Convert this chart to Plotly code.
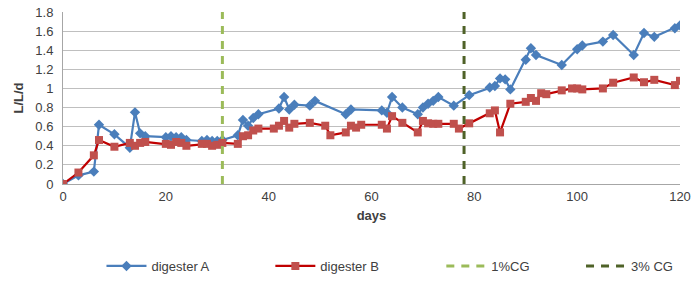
import plotly.graph_objects as go

days_a = [0, 3, 6, 7, 10, 13, 14, 15, 16, 20, 21, 22, 23, 24, 27, 28, 29, 30, 31, 34, 35, 36, 37, 38,
          42, 43, 44, 45, 48, 49, 55, 56, 62, 63, 64, 66, 69, 70, 71, 72, 73, 76, 79, 83, 84, 85, 86, 87,
          90, 91, 92, 97, 100, 101, 105, 107, 111, 113, 115, 119, 120]
vals_a = [0, 0.09, 0.13, 0.62, 0.52, 0.38, 0.75, 0.53, 0.50, 0.49, 0.50, 0.49, 0.49, 0.46, 0.45, 0.46, 0.45, 0.45, 0.46, 0.51, 0.67, 0.61, 0.69, 0.73,
          0.79, 0.91, 0.78, 0.83, 0.82, 0.87, 0.73, 0.78, 0.77, 0.745, 0.91, 0.80, 0.73, 0.80, 0.84, 0.87, 0.91, 0.82, 0.93, 1.01, 1.025, 1.105, 1.095, 0.99,
          1.30, 1.42, 1.35, 1.245, 1.41, 1.45, 1.49, 1.56, 1.35, 1.58, 1.54, 1.63, 1.66]

days_b = [0, 3, 6, 7, 10, 13, 14, 15, 16, 20, 21, 22, 23, 24, 27, 28, 29, 30, 31, 34, 35, 36, 37, 38,
          41, 42, 43, 44, 45, 48, 51, 52, 55, 56, 57, 58, 62, 63, 64, 66, 69, 70, 71, 72, 73, 76, 77, 79,
          83, 84, 85, 87, 90, 91, 92, 93, 94, 97, 99, 100, 101, 105, 107, 111, 113, 115, 119, 120]
vals_b = [0, 0.12, 0.30, 0.46, 0.39, 0.43, 0.40, 0.43, 0.44, 0.42, 0.41, 0.44, 0.43, 0.40, 0.42, 0.42, 0.40, 0.41, 0.43, 0.42, 0.50, 0.51, 0.56, 0.58,
          0.58, 0.61, 0.66, 0.59, 0.63, 0.64, 0.61, 0.51, 0.54, 0.61, 0.59, 0.62, 0.62, 0.58, 0.71, 0.64, 0.54, 0.66, 0.635, 0.63, 0.63, 0.63, 0.58, 0.635,
          0.74, 0.77, 0.54, 0.84, 0.86, 0.90, 0.87, 0.95, 0.94, 0.98, 1.00, 1.00, 0.99, 1.00, 1.06, 1.115, 1.065, 1.09, 1.035, 1.08]

cg1_day = 31
cg3_day = 78
y_span = [0, 1.8]

FONT = "Liberation Sans, Arial, sans-serif"
TXT = "#404040"

fig = go.Figure()
fig.add_trace(go.Scatter(x=days_a, y=vals_a, mode="lines+markers", name="digester A", legend="legend",
                         line=dict(color="#4a7ebb", width=2.2),
                         marker=dict(symbol="diamond", size=8, color="#4a7ebb")))
fig.add_trace(go.Scatter(x=days_b, y=vals_b, mode="lines+markers", name="digester B", legend="legend2",
                         line=dict(color="#c00000", width=2.2),
                         marker=dict(symbol="square", size=8, color="#c0504d")))
fig.add_trace(go.Scatter(x=[cg1_day, cg1_day], y=y_span, mode="lines", name="1%CG", legend="legend3",
                         line=dict(color="#9bbb59", width=3, dash="8px,7px")))
fig.add_trace(go.Scatter(x=[cg3_day, cg3_day], y=y_span, mode="lines", name="3% CG", legend="legend4",
                         line=dict(color="#4f6228", width=3, dash="8px,7px")))

def leg(xpos):
    return dict(orientation="h", x=xpos, xref="container", xanchor="left",
                y=1 - 266 / 284, yref="container", yanchor="middle",
                font=dict(size=13, color=TXT), itemwidth=40, bgcolor="rgba(0,0,0,0)")

fig.update_layout(
    width=695, height=284,
    margin=dict(l=63, r=15, t=12, b=100, autoexpand=False),
    paper_bgcolor="white", plot_bgcolor="white",
    font=dict(family=FONT, size=13, color=TXT),
    showlegend=True,
    legend=leg(0.146), legend2=leg(0.389), legend3=leg(0.635), legend4=leg(0.836),
)
fig.update_xaxes(range=[0, 120], tickvals=[0, 20, 40, 60, 80, 100, 120], showgrid=False,
                 showline=True, linecolor="#a6a6a6", linewidth=1, ticks="", zeroline=False,
                 automargin=False,
                 title=dict(text="<b>days</b>", font=dict(size=13, color=TXT), standoff=8))
fig.update_yaxes(range=[0, 1.8], tickvals=[0, 0.2, 0.4, 0.6, 0.8, 1, 1.2, 1.4, 1.6, 1.8],
                 ticktext=["0", "0.2", "0.4", "0.6", "0.8", "1", "1.2", "1.4", "1.6", "1.8"],
                 showgrid=True, gridcolor="#bfbfbf", gridwidth=1, showline=True, linecolor="#a6a6a6",
                 zeroline=False, ticks="", ticklabelstandoff=6, automargin=False,
                 title=dict(text="<b>L/L/d</b>", font=dict(size=13, color=TXT), standoff=8))

fig.write_html("out.html", config={"displayModeBar": False},
               post_script="document.body.style.margin='0px';")
